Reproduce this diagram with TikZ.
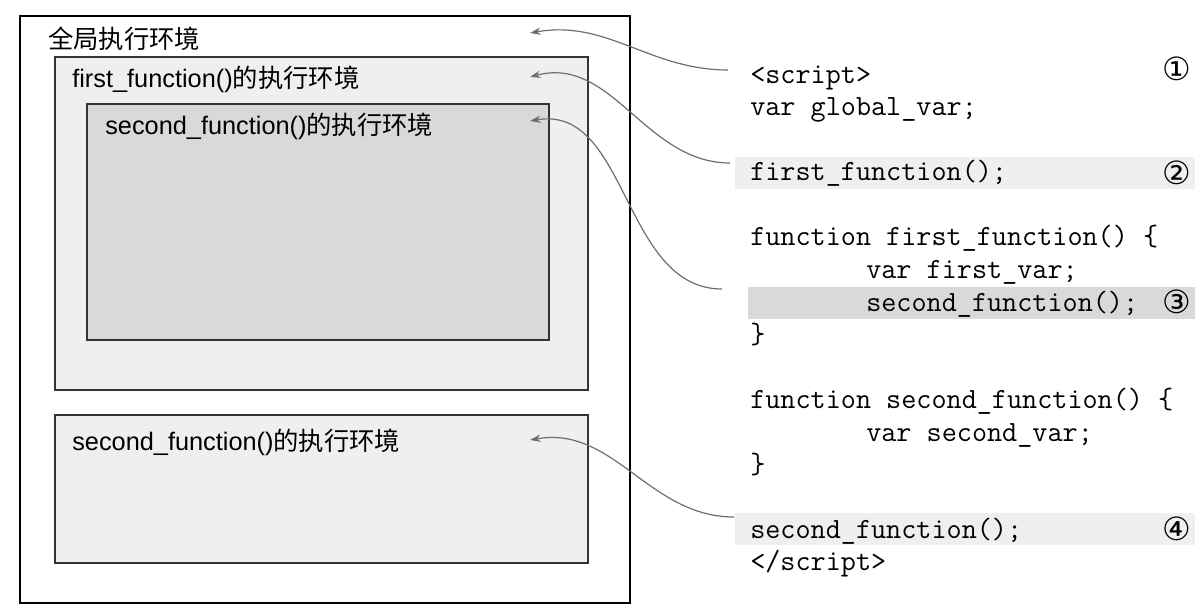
\documentclass[tikz,border=0pt]{standalone}
\usepackage{fontspec}
\setmainfont{Liberation Sans}
\newfontfamily\cjkfont{Noto Sans CJK SC}
\newfontfamily\numfont{DejaVu Sans}
\usetikzlibrary{arrows.meta}
\definecolor{boxlight}{HTML}{EFEFEF}
\definecolor{boxdark}{HTML}{D9D9D9}
\definecolor{arrowgray}{HTML}{6E6E6E}
\definecolor{edgegray}{HTML}{333333}
\begin{document}
\begin{tikzpicture}[x=0.75pt,y=-0.75pt,
  outerbox/.style={draw=black, line width=1.1pt, fill=white},
  envbox/.style={draw=edgegray, line width=1.1pt},
  lbl/.style={anchor=base west, inner sep=0pt, font=\fontsize{19}{22}\selectfont},
  codeline/.style={anchor=base west, inner sep=0pt, font=\ttfamily\fontsize{22}{24}\selectfont},
  numlbl/.style={inner sep=0pt, font=\numfont\fontsize{24}{26}\selectfont},
  link/.style={draw=arrowgray, line width=0.9pt, -{Stealth[length=8pt,width=5.5pt]}}
]
\useasboundingbox (0,0) rectangle (1198,616);
% boxes
\draw[outerbox] (20,16) rectangle (630,603);
\draw[envbox, fill=boxlight] (55,57) rectangle (588,390);
\draw[envbox, fill=boxdark] (87,104) rectangle (549,340);
\draw[envbox, fill=boxlight] (55,415) rectangle (588,563);
% labels
\node[lbl] (gl) at (48,49) {\cjkfont 全局执行环境};
\node[lbl] (fl) at (72,88) {first\_function(){\cjkfont 的执行环境}};
\node[lbl] (sl) at (105,135) {second\_function(){\cjkfont 的执行环境}};
\node[lbl] (bl) at (72,450) {second\_function(){\cjkfont 的执行环境}};
% code bands
\fill[boxlight] (735,157) rectangle (1195,189);
\fill[boxdark] (748,287) rectangle (1195,319);
\fill[boxlight] (735,513) rectangle (1195,545);
% code
\node[codeline] (c1) at (750,84) {<script>};
\node[codeline] (c2) at (750,116) {var global\_var;};
\node[codeline] (c3) at (750,181) {first\_function();};
\node[codeline] (c4) at (750,246) {function first\_function() \{};
\node[codeline] (c5) at (866,279) {var first\_var;};
\node[codeline] (c6) at (866,311) {second\_function();};
\node[codeline] (c7) at (750,343) {\}};
\node[codeline] (c8) at (750,408) {function second\_function() \{};
\node[codeline] (c9) at (866,441) {var second\_var;};
\node[codeline] (c10) at (750,473) {\}};
\node[codeline] (c11) at (750,538) {second\_function();};
\node[codeline] (c12) at (750,570) {</script>};
% numbers
\node[numlbl] (n1) at (1177,69) {①};
\node[numlbl] (n2) at (1177,173) {②};
\node[numlbl] (n3) at (1177,302) {③};
\node[numlbl] (n4) at (1177,529) {④};
% connector end points
\coordinate (t1) at (530,33);
\coordinate (t2) at (530,77);
\coordinate (t3) at (530,121);
\coordinate (t4) at (530,440);
\coordinate (s1) at (728,70);
\coordinate (s2) at (730,163);
\coordinate (s3) at (722,289);
\coordinate (s4) at (734,517);
\draw[link] (s1) to[out=180,in=10] (t1);
\draw[link] (s2) to[out=180,in=15] (t2);
\draw[link] (s3) to[out=180,in=10] (t3);
\draw[link] (s4) to[out=180,in=10] (t4);
\end{tikzpicture}
\end{document}
